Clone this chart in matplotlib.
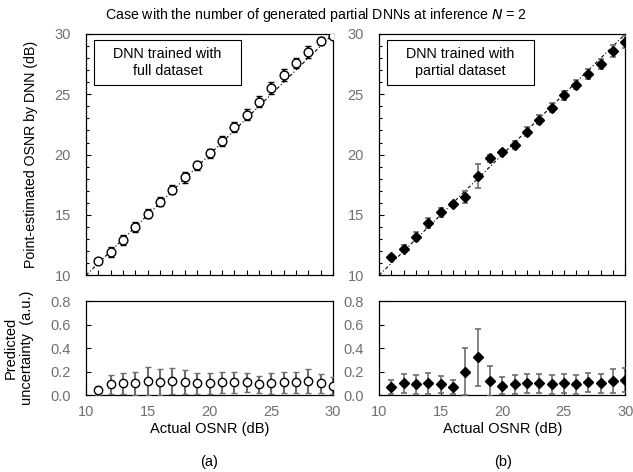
import numpy as np
import matplotlib.pyplot as plt
from matplotlib.patches import Rectangle

plt.rcParams['font.family'] = ['Liberation Sans', 'DejaVu Sans']

osnr = np.arange(11, 31)

# (a) full dataset
est_a = [11.2, 11.9, 12.9, 14.0, 15.1, 16.1, 17.1, 18.1, 19.1, 20.1,
         21.1, 22.3, 23.3, 24.4, 25.5, 26.6, 27.6, 28.5, 29.4, 29.8]
est_a_err = [0.0, 0.4, 0.4, 0.4, 0.4, 0.35, 0.4, 0.45, 0.4, 0.4,
             0.4, 0.4, 0.45, 0.45, 0.5, 0.5, 0.45, 0.5, 0.35, 0.0]
unc_a = [0.04, 0.09, 0.10, 0.10, 0.12, 0.11, 0.12, 0.11, 0.10, 0.10,
         0.11, 0.11, 0.11, 0.09, 0.10, 0.11, 0.11, 0.12, 0.10, 0.08]
unc_a_err = [0.04, 0.08, 0.09, 0.10, 0.12, 0.11, 0.11, 0.10, 0.09, 0.09,
             0.09, 0.09, 0.08, 0.07, 0.09, 0.09, 0.09, 0.10, 0.08, 0.07]

# (b) partial dataset
est_b = [11.5, 12.2, 13.2, 14.3, 15.2, 15.9, 16.5, 18.2, 19.7, 20.2,
         20.8, 21.9, 22.9, 23.9, 24.9, 25.8, 26.7, 27.5, 28.6, 29.3]
est_b_err = [0.2, 0.3, 0.35, 0.4, 0.35, 0.15, 0.5, 1.0, 0.3, 0.15,
             0.3, 0.4, 0.4, 0.4, 0.4, 0.4, 0.4, 0.4, 0.5, 0.5]
unc_b = [0.07, 0.10, 0.09, 0.10, 0.09, 0.07, 0.20, 0.32, 0.12, 0.08,
         0.09, 0.10, 0.10, 0.09, 0.10, 0.09, 0.11, 0.10, 0.12, 0.13]
unc_b_err = [0.06, 0.08, 0.08, 0.09, 0.07, 0.06, 0.20, 0.24, 0.13, 0.07,
             0.08, 0.08, 0.08, 0.08, 0.08, 0.08, 0.08, 0.08, 0.10, 0.10]

gray = '#6e6e6e'
fig = plt.figure(figsize=(6.33, 4.72), dpi=100)

ax_a = fig.add_axes([0.136, 0.417, 0.390, 0.511])
ax_b = fig.add_axes([0.599, 0.417, 0.389, 0.511])
ax_ua = fig.add_axes([0.136, 0.163, 0.390, 0.199])
ax_ub = fig.add_axes([0.599, 0.163, 0.389, 0.199])

for ax in (ax_a, ax_b):
    ax.plot([10, 30], [10, 30], color='black', lw=0.8, ls=(0, (3, 2, 1, 2)))
    ax.set_xlim(10, 30)
    ax.set_ylim(10, 30)
    ax.set_xticks(np.arange(10, 31, 1))
    ax.set_xticklabels([])
    ax.set_yticks([10, 15, 20, 25, 30])
    ax.set_yticks(np.arange(10, 31, 1), minor=True)

ax_a.errorbar(osnr, est_a, yerr=est_a_err, fmt='o', ms=6.3, mfc='white', mec='black',
              mew=1.0, ecolor='black', elinewidth=1.6, capsize=2.5, capthick=1.6, zorder=3)
ax_b.errorbar(osnr, est_b, yerr=est_b_err, fmt='D', ms=5.5, mfc='black', mec='black',
              ecolor=gray, elinewidth=1.2, capsize=2.5, capthick=1.2, zorder=3)

ax_ua.errorbar(osnr, unc_a, yerr=unc_a_err, fmt='o', ms=6, mfc='white', mec='black',
               mew=1.0, ecolor=gray, elinewidth=1.5, capsize=2.5, capthick=1.2, zorder=3)
ax_ub.errorbar(osnr, unc_b, yerr=unc_b_err, fmt='D', ms=5, mfc='black', mec='black',
               ecolor=gray, elinewidth=1.2, capsize=2.5, capthick=1.2, zorder=3)

for ax in (ax_ua, ax_ub):
    ax.set_xlim(10, 30)
    ax.set_ylim(0, 0.8)
    ax.set_xticks([10, 15, 20, 25, 30])
    ax.set_yticks([0, 0.2, 0.4, 0.6, 0.8])
    ax.set_yticklabels(['0.0', '0.2', '0.4', '0.6', '0.8'])
    ax.set_xlabel('Actual OSNR (dB)', fontsize=10.5, labelpad=2)

for ax in (ax_a, ax_b, ax_ua, ax_ub):
    ax.tick_params(which='both', direction='in', labelsize=10.5, labelcolor='#707070',
                   length=3.5, width=0.8)
    ax.tick_params(which='minor', left=True, length=2.5)
    ax.tick_params(axis='x', which='major', pad=7)
    ax.tick_params(axis='y', pad=11)
    for s in ax.spines.values():
        s.set_linewidth(0.9)

ax_a.set_ylabel('Point-estimated OSNR by DNN (dB)', fontsize=10.2, labelpad=12)
ax_ua.set_ylabel('Predicted\nuncertainty  (a.u.)', fontsize=10.5, labelpad=12)

for ax, label in ((ax_a, 'DNN trained with\nfull dataset'),
                  (ax_b, 'DNN trained with\npartial dataset')):
    ax.add_patch(Rectangle((0.032, 0.79), 0.595, 0.183, transform=ax.transAxes,
                           fc='white', ec='black', lw=0.8, zorder=4))
    ax.text(0.33, 0.882, label, transform=ax.transAxes, ha='center', va='center',
            fontsize=10.3, linespacing=1.25, zorder=5)

fig.text(0.5, 0.968, 'Case with the number of generated partial DNNs at inference $N$ = 2',
         ha='center', va='center', fontsize=10.2)
fig.text(0.33, 0.022, '(a)', ha='center', va='center', fontsize=10.5)
fig.text(0.795, 0.022, '(b)', ha='center', va='center', fontsize=10.5)

fig.savefig('out.png', dpi=100)
